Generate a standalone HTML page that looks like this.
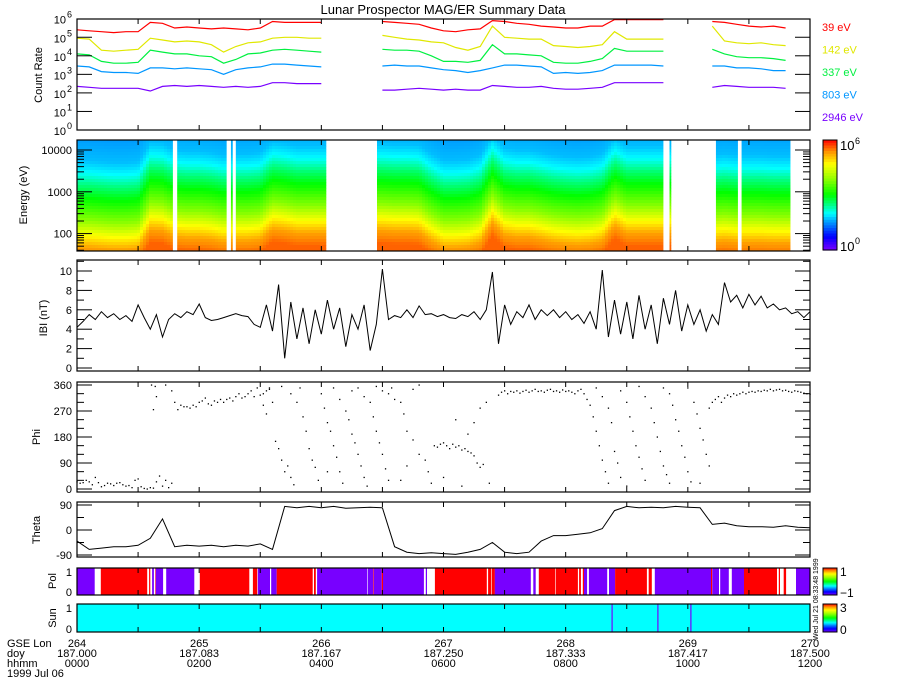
<!DOCTYPE html>
<html><head><meta charset="utf-8"><style>
html,body{margin:0;padding:0;background:#fff}
svg{display:block;font-family:"Liberation Sans",sans-serif}
</style></head><body>
<svg id="c" width="900" height="700" viewBox="0 0 900 700" xmlns="http://www.w3.org/2000/svg">
<rect width="900" height="700" fill="#fff"/>
<text x="443" y="14" text-anchor="middle" font-size="13">Lunar Prospector MAG/ER Summary Data</text>
</svg>
<script>
// ---- data (hours 0..12) ----
const countStep = 0.2;
const rate39 = [5.4,5.35,5.3,5.25,5.3,5.3,5.8,5.75,5.5,5.55, 5.5,5.45,5.5,5.45,5.4,5.5,5.85,5.8,5.8,5.8, 5.8,null,null,null,null, 5.85,5.8,5.75,5.7,5.5, 5.35,5.3,5.4,5.45,5.9,5.85,5.75,5.7,5.6,5.55, 5.5,5.5,5.6,5.6,5.95,5.95,5.95,5.95,5.95, null,null,null, 5.85,5.8,5.7,5.6,5.55,5.6,5.5, null,null];
const rate142 = [4.95,4.9,4.3,4.25,4.3,4.35,4.95,4.85,4.75,4.8, 4.75,4.6,4.2,4.5,4.7,4.75,4.95,5.0,5.0,4.95, 4.95,null,null,null,null, 5.1,5.0,4.9,4.85,4.75, 4.7,4.45,4.3,4.5,5.6,5.0,4.95,4.9,4.9,4.55, 4.5,4.45,4.5,4.6,5.3,4.9,4.9,4.9,4.9, null,null,null, 5.6,4.8,4.7,4.65,4.7,4.6,4.55, null,null];
const rate337 = [4.1,4.05,3.7,3.6,3.6,3.65,4.3,4.2,4.1,4.1, 4.0,3.95,3.6,3.8,4.1,4.15,4.3,4.35,4.3,4.25, 4.2,null,null,null,null, 4.35,4.3,4.3,4.25,4.0, 3.7,3.7,3.65,3.75,4.6,4.1,4.1,4.05,4.0,3.65, 3.6,3.6,3.7,3.85,4.4,4.25,4.25,4.25,4.25, null,null,null, 4.35,4.1,3.95,3.9,3.9,3.85,3.75, null,null];
const rate803 = [3.45,3.4,3.15,3.1,3.1,3.05,3.35,3.35,3.3,3.35, 3.3,3.25,3.0,3.25,3.35,3.4,3.55,3.55,3.5,3.45, 3.4,null,null,null,null, 3.45,3.5,3.45,3.45,3.35, 3.25,3.2,3.1,3.2,3.35,3.5,3.5,3.45,3.4,3.05, 3.1,3.05,3.1,3.2,3.5,3.5,3.5,3.5,3.45, null,null,null, 3.45,3.45,3.35,3.35,3.3,3.2,3.2, null,null];
const rate2946 = [2.35,2.3,2.25,2.25,2.25,2.25,2.1,2.35,2.4,2.35, 2.4,2.35,2.3,2.35,2.3,2.35,2.55,2.55,2.5,2.5, 2.5,null,null,null,null, 2.15,2.15,2.2,2.25,2.2, 2.15,2.2,2.15,2.15,2.4,2.35,2.3,2.3,2.35,2.25, 2.2,2.2,2.25,2.3,2.55,2.55,2.55,2.55,2.55, null,null,null, 2.3,2.4,2.35,2.3,2.3,2.3,2.25, null,null];
const channelLabels = ["39 eV","142 eV","337 eV","803 eV","2946 eV"];
const specPeakEnergy = [90,90,85,80,80,85,240,230,160,150, 150,140,120,130,130,140,250,230,200,200, 200,null,null,null,null, 230,220,220,210,130, 90,90,95,120,350,180,160,160,140,120, 110,105,110,130,300,200,200,200,200, null,null,null, 120,130,120,120,120,115,115, null,null];
const specGaps = [[1.57,1.64],[2.45,2.52],[2.55,2.6],[9.6,9.7],[10.3,10.46],[10.82,10.88],[11.68,12]];
const bStep = 0.1;
const bMag = [4.2,4.8,5.5,5.0,5.8,5.2,5.6,5.0,5.4,4.8, 6.5,5.2,4.0,5.5,3.2,5.0,5.6,5.2,5.8,5.5, 6.6,5.2,4.9,5.0,5.2,5.4,5.6,5.4,5.3,4.5, 4.2,6.5,3.8,8.6,1.0,6.8,3.0,6.2,2.5,6.0, 3.5,7.0,4.0,6.2,2.2,5.5,4.0,6.5,1.8,4.5, 10.2,5.0,5.4,5.2,6.0,5.2,6.4,5.5,5.6,5.3, 5.5,5.2,5.1,5.5,5.3,5.8,5.0,6.0,9.9,2.5, 6.5,4.5,5.8,5.2,6.5,5.0,6.0,5.4,6.0,5.2, 5.8,5.0,5.5,4.6,5.8,4.0,10.1,3.2,7.0,3.5, 6.8,3.0,7.5,4.0,6.5,2.5,7.2,4.5,8.0,3.8, 6.5,4.5,6.0,3.8,5.5,4.5,8.8,6.8,7.5,6.2, 7.6,6.5,7.4,6.2,6.6,6.0,6.2,5.6,5.8,5.2, 5.8];
const phiObs = [[0,25],[0.05,20],[0.1,22],[0.15,30],[0.2,25],[0.25,15],[0.3,40],[0.35,22],[0.4,8],[0.45,12],[0.5,20],[0.55,18],[0.6,12],[0.65,20],[0.7,22],[0.75,15],[0.8,10],[0.85,12],[0.9,5],[0.95,30],[1.0,35],[1.05,8],[1.1,2],[1.15,0],[1.2,5],[1.25,3],[1.3,25],[1.35,45],[1.4,10],[1.45,30],[1.5,5],[1.55,20],
[1.22,360],[1.28,355],[1.3,320],[1.25,275],[1.45,360],[1.55,340],
[1.6,300],[1.65,275],[1.7,290],[1.75,285],[1.8,285],[1.85,280],[1.9,290],[1.95,285],[2.0,300],[2.05,305],[2.1,315],[2.15,295],[2.2,290],[2.25,305],[2.3,300],[2.35,310],[2.4,300],[2.45,310],[2.5,315],[2.55,305],[2.6,320],[2.65,330],[2.7,315],[2.75,320],[2.8,330],[2.85,340],[2.9,320],[2.95,350],[3.0,325],[3.05,330],[3.1,340],[3.15,345],
[3.05,290],[3.1,260],[3.15,350],[3.2,300],[3.25,165],[3.3,140],[3.35,100],[3.4,60],[3.45,80],[3.5,40],[3.55,15],[3.6,300],[3.65,350],[3.7,250],[3.75,200],[3.8,140],[3.85,100],[3.9,75],[3.95,30],[3.35,355],[3.5,330],
[4.0,330],[4.05,280],[4.1,230],[4.15,200],[4.2,150],[4.25,110],[4.3,60],[4.35,20],[4.1,60],[4.2,350],[4.3,310],[4.4,270],[4.45,240],[4.5,190],[4.55,160],[4.6,120],[4.65,80],[4.7,40],[4.75,10],[4.5,340],[4.6,350],[4.7,320],[4.8,300],[4.85,250],[4.9,200],[4.95,160],[5.0,120],[5.05,70],[5.1,30],[4.9,355],[5.0,340],[5.1,330],[5.15,350],[5.2,310],[5.3,300],[5.35,260],[5.4,200],[5.5,170],[5.6,120],[5.7,100],[5.75,60],[5.8,20],[5.5,345],[5.6,360],[5.3,30],[5.4,80],
[5.85,150],[5.9,145],[5.95,155],[6.0,160],[6.05,150],[6.1,140],[6.15,155],[6.2,145],[6.25,150],[6.3,135],[6.35,140],[6.4,130],[6.45,125],[6.5,115],[6.55,90],[6.6,75],[6.65,85],[6.2,240],[6.4,190],[6.5,230],[6.6,280],[6.7,300],[6.75,20],[6.0,40],[6.3,10],
[6.9,325],[6.95,335],[7.0,340],[7.05,330],[7.1,338],[7.15,335],[7.2,340],[7.25,332],[7.3,338],[7.35,342],[7.4,335],[7.45,340],[7.5,345],[7.55,338],[7.6,340],[7.65,335],[7.7,342],[7.75,345],[7.8,338],[7.85,340],[7.9,335],[7.95,343],[8.0,338],[8.05,340],[8.1,335],[8.15,330],[8.2,340],[8.25,345],[8.3,330],[8.35,310],[8.4,290],
[8.45,250],[8.5,200],[8.55,150],[8.6,100],[8.65,60],[8.7,20],[8.5,350],[8.6,320],[8.7,280],[8.75,230],[8.8,130],[8.85,90],[8.9,40],[9.0,10],[8.9,340],[9.0,300],[9.05,250],[9.1,200],[9.15,150],[9.2,110],[9.25,70],[9.3,30],[9.2,355],[9.3,320],[9.4,280],[9.45,230],[9.5,180],[9.55,130],[9.6,80],[9.65,50],[9.7,20],[9.6,350],[9.7,330],[9.75,290],[9.8,240],[9.85,200],[9.9,150],[9.95,110],[10.0,60],[10.05,25],[10.0,350],[10.1,300],[10.15,260],[10.2,210],[10.25,170],[10.3,120],[10.35,80],[10.2,20],
[10.35,280],[10.4,300],[10.45,310],[10.5,320],[10.55,300],[10.6,315],[10.65,325],[10.7,320],[10.75,330],[10.8,325],[10.85,330],[10.9,335],[10.95,330],[11.0,335],[11.05,338],[11.1,335],[11.15,340],[11.2,338],[11.25,342],[11.3,340],[11.35,345],[11.4,340],[11.45,343],[11.5,345],[11.55,340],[11.6,342],[11.65,338],[11.7,335],[11.75,340],[11.8,338],[11.85,335],[11.9,332],[11.95,330],[12.0,328]];
const thetaStep = 0.2;
const theta = [-40,-70,-65,-60,-60,-55,-30,40,-60,-55, -58,-55,-60,-55,-58,-50,-70,85,80,85, 80,85,78,80,82, 80,-60,-80,-85,-82, -85,-88,-80,-70,-45,-80,-85,-80,-40,-20, -20,-15,-10,5,70,85,80,82,80,85, 82,80,20,25,15,12,12,10,15,10, 8];
const polSegments = [[0,0.29,-1],[0.39,1.15,1],[1.18,1.20,1],[1.23,1.26,-1],[1.28,1.29,1],[1.29,1.41,-1],[1.46,1.92,-1],[2.01,2.82,1],[2.88,2.95,1],[2.96,3.16,-1],[3.18,3.27,-1],[3.27,3.86,1],[3.88,3.91,1],[3.93,4.75,-1],[4.76,4.85,-1],[4.85,4.86,1],[4.86,4.99,-1],[4.99,5.01,1],[5.01,5.68,-1],[5.71,5.73,-1],[5.86,6.71,1],[6.73,6.78,1],[6.79,6.84,1],[6.84,7.43,-1],[7.47,7.51,-1],[7.56,7.83,1],[7.84,8.20,1],[8.22,8.25,1],[8.28,8.30,1],[8.30,8.35,-1],[8.38,8.68,-1],[8.71,8.81,-1],[8.81,9.33,1],[9.36,9.41,1],[9.46,10.38,-1],[10.38,10.40,1],[10.40,10.51,-1],[10.53,10.67,-1],[10.72,10.92,-1],[10.92,11.46,1],[11.49,11.51,1],[11.57,11.61,1],[11.77,12,-1]];
const sunBaseValue = 1;
const sunEventTimes = [8.76,9.51,10.05];
const sunEventValue = 0;
const gseLon = ["264","265","266","267","268","269","270"];
const doyLabels = ["187.000","187.083","187.167","187.250","187.333","187.417","187.500"];
const hhmmLabels = ["0000","0200","0400","0600","0800","1000","1200"];

// ---- geometry ----
const X0=77, X1=810, svg=document.getElementById('c'), NS='http://www.w3.org/2000/svg';
const xs = t => X0 + t/12*(X1-X0);
const P = {cnt:[19,130], en:[140,251], b:[260,371], phi:[382,492], th:[502,557], pol:[568,595], sun:[604,632]};
const yC = l => 130 - l*18.55;
const yE = e => 233.6 - (Math.log10(e)-2)*41.8;
const yB = v => 368 - v*9.7;
const yP = v => 489 - v*104/360;
const yT = v => 530 - v*25/90;
function el(tag, attrs, parent){const e=document.createElementNS(NS,tag);for(const k in attrs)e.setAttribute(k,attrs[k]);(parent||svg).appendChild(e);return e;}
function rainbow(v){
  const st=[[0,[120,0,255]],[0.12,[0,0,255]],[0.25,[0,150,255]],[0.33,[0,255,255]],[0.5,[0,255,0]],[0.65,[150,255,0]],[0.78,[255,255,0]],[0.9,[255,140,0]],[1,[255,0,0]]];
  v=Math.max(0,Math.min(1,v));
  for(let i=1;i<st.length;i++){ if(v<=st[i][0]){const a=st[i-1],b=st[i],f=(v-a[0])/(b[0]-a[0]);return 'rgb('+a[1].map((c,j)=>Math.round(c+(b[1][j]-c)*f)).join(',')+')';}}
  return 'rgb(255,0,0)';
}
function grp(name){const g=el('g',{});return g;}
function txt(g,x,y,s,opt){const t=el('text',Object.assign({x:x,y:y,'font-size':11},opt||{}),g);t.textContent=s;return t;}

// ---- count rate ----
const gc = grp('count-rate-panel');
const cColors=['#ff0000','#e0e800','#00f040','#0096ff','#7800ff'];
[rate39,rate142,rate337,rate803,rate2946].forEach((arr,k)=>{
  let d='';let pen=false;
  arr.forEach((v,i)=>{ if(v===null){pen=false;return;} d+=(pen?'L':'M')+xs(i*countStep).toFixed(1)+' '+yC(v).toFixed(1); pen=true;});
  const p=el('path',{d:d,fill:'none',stroke:cColors[k],'stroke-width':1.2},gc);
  
  
  const t=txt(gc,822,31+k*22.5,channelLabels[k],{fill:cColors[k]});
  
  
});
for(let l=0;l<=6;l++){
  const y=yC(l);
  if(l>0&&l<6){el('line',{x1:X0,y1:y,x2:X0+15,y2:y,stroke:'#000'},gc);el('line',{x1:X1-15,y1:y,x2:X1,y2:y,stroke:'#000'},gc);}
  const t=txt(gc,66,y+5,'10',{'text-anchor':'end'});
  
  
  const s=txt(gc,67,y-1,String(l),{'font-size':9});
  
  
}

// ---- spectrogram ----
const gs = grp('energy-spectrogram');
const dMap=[[-0.6,0.93],[-0.3,0.88],[0,0.78],[0.35,0.64],[0.8,0.52],[1.2,0.42],[1.5,0.33],[1.8,0.28],[2.4,0.25]];
function specVal(d){ if(d<=dMap[0][0])return dMap[0][1]; for(let i=1;i<dMap.length;i++){if(d<=dMap[i][0]){const a=dMap[i-1],b=dMap[i];return a[1]+(b[1]-a[1])*(d-a[0])/(b[0]-a[0]);}} return dMap[dMap.length-1][1]; }
function peakAt(t){
  const f=t/countStep, i=Math.floor(f), r=f-i;
  const a=specPeakEnergy[i], b=specPeakEnergy[Math.min(i+1,specPeakEnergy.length-1)];
  const near=specPeakEnergy[Math.round(f)];
  if(near===null||near===undefined) return null;
  if(a===null||b===null||a===undefined||b===undefined) return near;
  return Math.pow(10,Math.log10(a)*(1-r)+Math.log10(b)*r);
}
for(let x=X0;x<X1;x+=3){
  const t=(x+1.5-X0)/(X1-X0)*12;
  const pk=peakAt(t); if(pk===null) continue;
  for(let y=140;y<251;y+=3){
    const logE=2+(233.6-(y+1.5))/41.8;
    const r=el('rect',{x:x,y:y,width:3.3,height:3.3,fill:rainbow(specVal(logE-Math.log10(pk)))},gs);
    
    
  }
}
specGaps.forEach(g=>{el('rect',{x:xs(g[0]),y:140,width:xs(g[1])-xs(g[0]),height:111,fill:'#fff'},gs);});
for(let dec=1;dec<=4;dec++){for(let m=1;m<=9;m++){const e=m*Math.pow(10,dec);const y=yE(e);if(y<140||y>251)continue;const len=(m===1)?15:7;
  el('line',{x1:X0,y1:y,x2:X0+len,y2:y,stroke:'#000'},gs);el('line',{x1:X1-len,y1:y,x2:X1,y2:y,stroke:'#000'},gs);}}
[[10000,'10000'],[1000,'1000'],[100,'100']].forEach(([e,s])=>{const t=txt(gs,72,yE(e)+4,s,{'text-anchor':'end'});});

// ---- |B| ----
const gb=grp('bmag-panel');
let bd='';bMag.forEach((v,i)=>{bd+=(i?'L':'M')+xs(i*bStep).toFixed(1)+' '+yB(v).toFixed(1);});
const bl=el('path',{d:bd,fill:'none',stroke:'#000','stroke-width':1},gb);


for(let v=0;v<=11;v++){const y=yB(v),len=v%2?7:15;el('line',{x1:X0,y1:y,x2:X0+len,y2:y,stroke:'#000'},gb);el('line',{x1:X1-len,y1:y,x2:X1,y2:y,stroke:'#000'},gb);
  if(v%2===0){const t=txt(gb,72,y+4,String(v),{'text-anchor':'end'});}}

// ---- Phi ----
const gp=grp('phi-panel');
phiObs.forEach(([t,v])=>{const r=el('rect',{x:(xs(t)-0.6).toFixed(1),y:(yP(v)-0.6).toFixed(1),width:1.3,height:1.3,fill:'#000'},gp);
  
  });
for(let v=0;v<=360;v+=30){const y=yP(v),len=v%90?7:15;el('line',{x1:X0,y1:y,x2:X0+len,y2:y,stroke:'#000'},gp);el('line',{x1:X1-len,y1:y,x2:X1,y2:y,stroke:'#000'},gp);
  if(v%90===0){const t=txt(gp,72,y+4,String(v),{'text-anchor':'end'});}}

// ---- Theta ----
const gt=grp('theta-panel');
let td='';theta.forEach((v,i)=>{td+=(i?'L':'M')+xs(i*thetaStep).toFixed(1)+' '+yT(v).toFixed(1);});
const tl=el('path',{d:td,fill:'none',stroke:'#000','stroke-width':1},gt);


for(let v=-90;v<=90;v+=45){const y=yT(v),len=v%90?7:15;el('line',{x1:X0,y1:y,x2:X0+len,y2:y,stroke:'#000'},gt);el('line',{x1:X1-len,y1:y,x2:X1,y2:y,stroke:'#000'},gt);
  if(v%90===0){const t=txt(gt,72,y+4,String(v),{'text-anchor':'end'});}}

// ---- Pol ----
const gpol=grp('pol-panel');
polSegments.forEach(([a,b,v])=>{const r=el('rect',{x:xs(a).toFixed(1),y:568,width:(xs(b)-xs(a)).toFixed(1),height:27,fill:rainbow((v+1)/2)},gpol);
  
  });
// ---- Sun ----
const gsun=grp('sun-panel');
const sb=el('rect',{x:X0,y:604,width:X1-X0,height:28,fill:rainbow(0.33*sunBaseValue)},gsun);


sunEventTimes.forEach(t=>{const l=el('line',{x1:xs(t),y1:604,x2:xs(t),y2:632,stroke:rainbow(sunEventValue/3),'stroke-width':1.2},gsun);
  
  });
[[568,595,'1','0'],[604,632,'1','0']].forEach(([a,b,s1,s2])=>{txt(svg,72,a+8,s1,{'text-anchor':'end'});txt(svg,72,b+1,s2,{'text-anchor':'end'});});

// ---- frames & x ticks ----
Object.keys(P).forEach(k=>{const [a,b]=P[k];
  const f=el('rect',{x:X0,y:a,width:X1-X0,height:b-a,fill:'none',stroke:'#000','stroke-width':1.2});
  
  
  for(let h=0;h<=12;h++){const x=xs(h);el('line',{x1:x,y1:b,x2:x,y2:b-5,stroke:'#000'});el('line',{x1:x,y1:a,x2:x,y2:a+5,stroke:'#000'});}
});

// ---- colorbars ----
function cbar(name,y0,y1,top,bot,sup){
  const g=grp(name);
  const n=40;for(let i=0;i<n;i++){el('rect',{x:823,y:(y0+(y1-y0)*i/n).toFixed(1),width:14,height:((y1-y0)/n+0.5).toFixed(1),fill:rainbow(1-(i+0.5)/n)},g);}
  el('rect',{x:823,y:y0,width:14,height:y1-y0,fill:'none',stroke:'#000'},g);
  if(sup){txt(g,840,y0+10,'10',{'font-size':13});txt(g,855,y0+4,top,{'font-size':9});txt(g,840,y1+1,'10',{'font-size':13});txt(g,855,y1-6,bot,{'font-size':9});}
  else{txt(g,840,y0+8,top,{'font-size':12});txt(g,840,y1+2,bot,{'font-size':12});}
}
cbar('energy-colorbar',140,250,'6','0',true);
cbar('pol-colorbar',568,595,'1','\u22121',false);
cbar('sun-colorbar',604,632,'3','0',false);
const stamp=txt(svg,0,0,'Wed Jul 21 08:33:48 1999',{'font-size':7,transform:'translate(818,640) rotate(-90)'});



// ---- y titles ----
[['Count Rate',42,75,'count-rate-title'],['Energy (eV)',27,195,'energy-title'],['IBI (nT)',47,318,'bmag-title'],['Phi',40,437,'phi-title'],['Theta',40,530,'theta-title'],['Pol',56,581,'pol-title'],['Sun',56,618,'sun-title']].forEach(([s,x,y,n])=>{
  const t=txt(svg,0,0,s,{'text-anchor':'middle',transform:'translate('+x+','+y+') rotate(-90)'});
  
  });

// ---- x labels ----
const gx=grp('x-axis-labels');
txt(gx,7,647,'GSE Lon');txt(gx,7,657,'doy');txt(gx,7,667,'hhmm');txt(gx,7,677,'1999 Jul 06');
gseLon.forEach((s,i)=>{const x=xs(i*2);txt(gx,x,647,s,{'text-anchor':'middle'});txt(gx,x,657,doyLabels[i],{'text-anchor':'middle'});txt(gx,x,667,hhmmLabels[i],{'text-anchor':'middle'});});
</script>
</body></html>
